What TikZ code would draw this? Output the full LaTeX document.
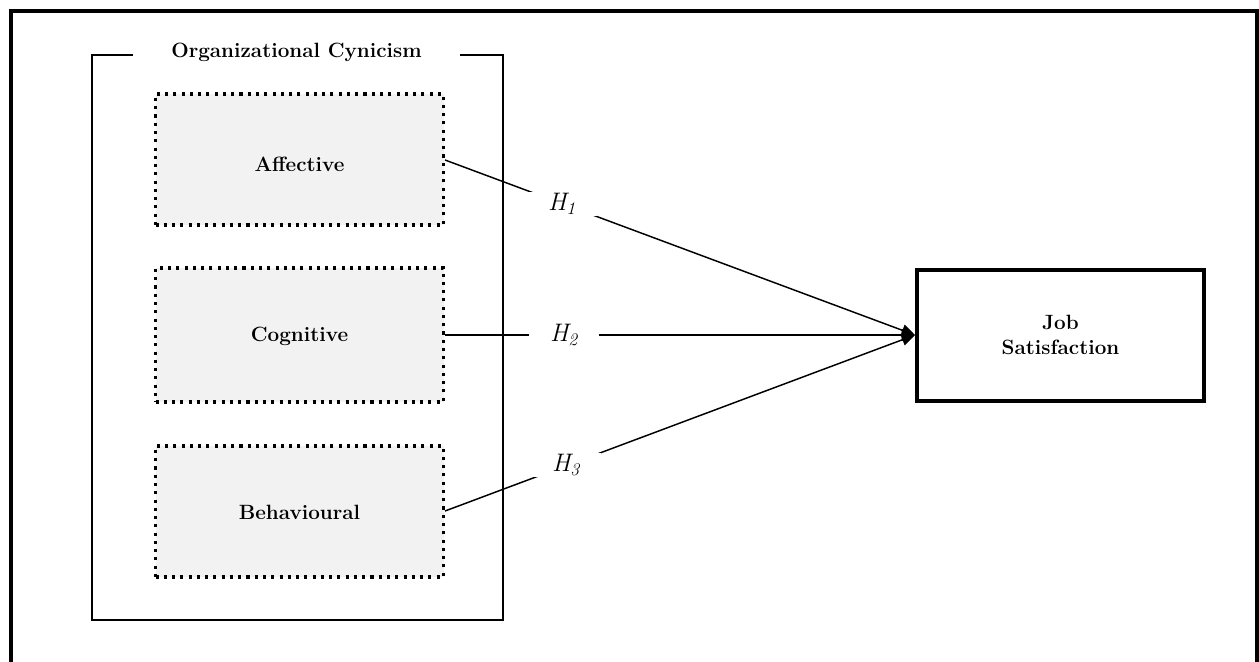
\documentclass[tikz,border=0pt]{standalone}
\usepackage{fontspec}
\usetikzlibrary{arrows.meta}
\definecolor{boxgray}{HTML}{F2F2F2}
\newcommand{\hypfont}{\fontsize{19}{22}\selectfont\itshape}
\begin{document}
\begin{tikzpicture}[x=0.75pt,y=-0.75pt,
  lbl/.style={font=\fontsize{15.5}{19}\selectfont\bfseries, align=center},
  dotbox/.style={draw=black, fill=boxgray, line width=2.3pt, dash pattern=on 2.3pt off 3.9pt},
  hyp/.style={fill=white, minimum width=70*0.75pt, minimum height=24*0.75pt, inner sep=0pt},
  link/.style={line width=1.1pt, -{Triangle[length=10pt,width=9pt]}}
]
\clip (0,0) rectangle (1259,661);
% outer frame (bottom edge lies beyond the picture)
\draw[line width=3pt] (10.5,700) -- (10.5,10.5) -- (1257,10.5) -- (1257,700);
% organizational cynicism group
\node[lbl, minimum width=327*0.75pt, inner sep=0pt] (title) at (296.5,52) {Organizational Cynicism};
\draw[line width=1.5pt] (title.west |- 0,55) -- (91.5,55) -- (91.5,620) -- (503,620) -- (503,55) -- (title.east |- 0,55);
% dimensions
\node[dotbox, minimum width=288*0.75pt, minimum height=131*0.75pt] (aff) at (299.5,159.5) {};
\node[lbl] at (299.5,164) {Affective};
\node[dotbox, minimum width=288*0.75pt, minimum height=134*0.75pt] (cog) at (299.5,335) {};
\node[lbl] at (299.5,336) {Cognitive};
\node[dotbox, minimum width=288*0.75pt, minimum height=131*0.75pt] (beh) at (299.5,511.5) {};
\node[lbl] at (299.5,512) {Behavioural};
% job satisfaction
\node[draw, line width=3pt, minimum width=287*0.75pt, minimum height=131.5*0.75pt, lbl, inner sep=0pt] (job) at (1060.5,335.25) {Job\\Satisfaction};
% connectors
\coordinate (tip) at (job.west |- 0,335);
\draw[link] (aff.east |- 0,160) -- (tip);
\draw[link] (cog.east) -- (tip);
\draw[link] (beh.east |- 0,511) -- (tip);
% hypothesis labels
\node[hyp] (h1) at (562,203.5) {\hypfont H\textsubscript{1}};
\node[hyp] (h2) at (564,335) {\hypfont H\textsubscript{2}};
\node[hyp] (h3) at (566,465) {\hypfont H\textsubscript{3}};
\end{tikzpicture}
\end{document}
